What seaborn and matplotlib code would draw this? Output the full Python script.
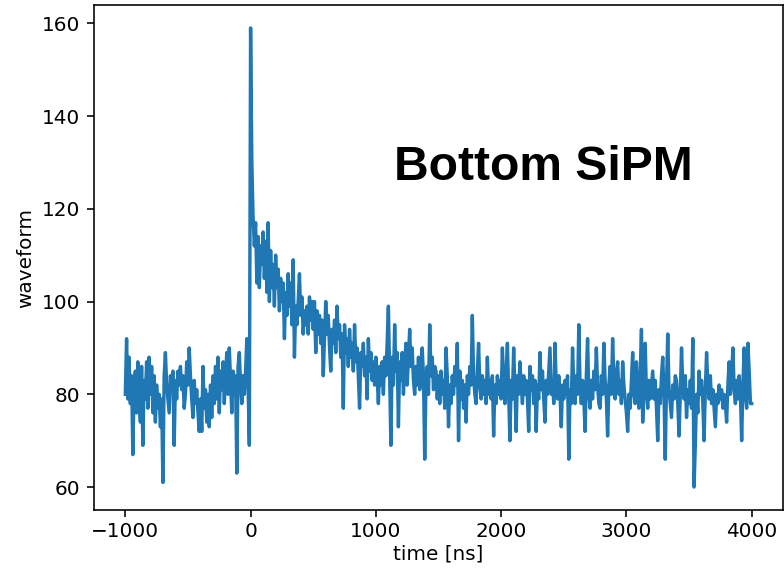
import numpy as np
import pandas as pd
import matplotlib
matplotlib.use("Agg")
import matplotlib.pyplot as plt
import seaborn as sns

# sampling grid of the waveform (ns)
time_start = -1000
time_stop = 4000
time_step = 10

# waveform values, 10 ns per sample
waveform = [
    # -1000 .. -810
    80, 92, 79, 88, 78, 84, 67, 82, 85, 76, 87, 80, 74, 86, 69, 83, 79, 87, 77, 88,
    # -800 .. -610
    80, 86, 76, 84, 74, 82, 77, 80, 73, 79, 61, 84, 89, 82, 79, 76, 84, 81, 85, 69,
    # -600 .. -410
    83, 79, 85, 82, 86, 81, 84, 77, 80, 87, 82, 90, 84, 79, 75, 83, 78, 81, 76, 72,
    # -400 .. -210
    79, 72, 86, 77, 81, 74, 80, 73, 82, 75, 84, 78, 86, 79, 88, 76, 85, 81, 87, 78,
    # -200 .. -10
    84, 89, 80, 90, 83, 76, 85, 80, 84, 63, 86, 89, 82, 78, 84, 80, 85, 92, 82, 69,
    # 0 .. 190
    159, 130, 118, 112, 117, 104, 114, 103, 112, 108, 115, 105, 113, 102, 117, 100, 111, 103, 108, 99,
    # 200 .. 390
    110, 103, 107, 98, 105, 100, 104, 92, 102, 97, 106, 99, 104, 95, 109, 88, 99, 95, 100, 106,
    # 400 .. 590
    97, 101, 93, 98, 95, 99, 93, 101, 96, 100, 94, 100, 89, 98, 93, 97, 91, 96, 84, 92,
    # 600 .. 790
    100, 93, 97, 90, 85, 94, 91, 96, 89, 99, 92, 95, 88, 93, 77, 95, 89, 92, 86, 94,
    # 800 .. 990
    88, 91, 85, 95, 87, 90, 84, 77, 89, 86, 91, 84, 88, 79, 92, 85, 89, 83, 87, 82,
    # 1000 .. 1190
    88, 84, 78, 86, 82, 87, 80, 88, 84, 91, 99, 84, 69, 88, 82, 95, 85, 89, 73, 87,
    # 1200 .. 1390
    83, 89, 80, 86, 91, 82, 88, 94, 86, 90, 83, 80, 86, 82, 88, 81, 85, 90, 84, 66,
    # 1400 .. 1590
    82, 86, 80, 95, 84, 88, 81, 86, 85, 79, 84, 78, 85, 80, 83, 77, 90, 84, 73, 82,
    # 1600 .. 1790
    78, 84, 80, 86, 82, 91, 70, 85, 79, 83, 77, 82, 74, 84, 80, 86, 82, 97, 84, 80,
    # 1800 .. 1990
    78, 85, 91, 82, 79, 84, 80, 83, 78, 88, 80, 83, 79, 84, 71, 82, 78, 84, 80, 83,
    # 2000 .. 2190
    79, 90, 82, 78, 85, 91, 80, 70, 83, 79, 90, 81, 72, 84, 80, 87, 82, 78, 84, 80,
    # 2200 .. 2390
    83, 79, 72, 86, 81, 84, 78, 83, 72, 82, 79, 89, 81, 85, 79, 74, 83, 80, 85, 90,
    # 2400 .. 2590
    80, 83, 78, 91, 82, 79, 84, 80, 73, 82, 79, 83, 80, 84, 66, 81, 78, 90, 82, 78,
    # 2600 .. 2790
    84, 80, 95, 82, 78, 83, 79, 72, 84, 92, 80, 77, 83, 79, 85, 81, 90, 82, 78, 77,
    # 2800 .. 2990
    84, 80, 91, 83, 79, 71, 82, 86, 80, 92, 83, 79, 84, 87, 80, 83, 78, 87, 82, 79,
    # 3000 .. 3190
    76, 72, 80, 77, 83, 89, 80, 78, 87, 81, 77, 84, 94, 74, 82, 91, 80, 77, 83, 79,
    # 3200 .. 3390
    82, 85, 79, 83, 77, 70, 81, 78, 84, 88, 80, 66, 82, 93, 81, 78, 75, 82, 79, 84,
    # 3400 .. 3590
    83, 78, 71, 80, 90, 82, 79, 84, 75, 81, 78, 83, 77, 92, 60, 69, 80, 76, 85, 80,
    # 3600 .. 3790
    83, 78, 70, 81, 89, 82, 79, 84, 78, 81, 77, 73, 80, 78, 82, 79, 81, 77, 80, 78,
    # 3800 .. 3990
    74, 82, 87, 80, 84, 90, 81, 78, 83, 79, 84, 80, 70, 82, 90, 80, 77, 91, 85, 78,
    # 4000
    78,
]

time_ns = np.arange(time_start, time_stop + time_step, time_step)
df = pd.DataFrame({"time": time_ns, "waveform": waveform})

fig = plt.figure(figsize=(784 / 144, 568 / 144), dpi=144)
ax = fig.add_axes([94 / 784, 1 - 510 / 568, (783 - 94) / 784, (510 - 5) / 568])

sns.lineplot(data=df, x="time", y="waveform", ax=ax, color="#1f77b4", linewidth=1.7)

ax.set_xlabel("time [ns]", labelpad=1.5)
ax.set_ylabel("waveform", labelpad=3)
ax.set_xticks([-1000, 0, 1000, 2000, 3000, 4000])
ax.set_yticks([60, 80, 100, 120, 140, 160])
ax.tick_params(axis="x", pad=2.5)

ax.text(0.652, 0.679, "Bottom SiPM", transform=ax.transAxes,
        ha="center", va="center", fontsize=24, fontweight="bold",
        family=["Liberation Sans", "DejaVu Sans"])

fig.savefig("out.png", dpi=144)
